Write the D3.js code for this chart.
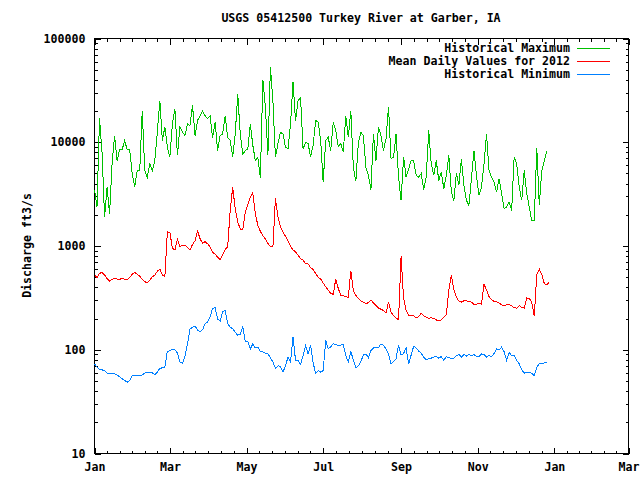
<!DOCTYPE html>
<html>
<head>
<meta charset="utf-8">
<script src="https://cdn.jsdelivr.net/npm/d3@7"></script>
<style>
  body { margin: 0; background: #fff; }
  text { font-family: "DejaVu Sans Mono", monospace; font-weight: bold; font-size: 11.6px; fill: #000; }
</style>
</head>
<body>
<div id="chart"></div>
<script>
// daily values sampled every 2 days starting Jan 1 2012 (ft3/s)
const stepDays = 2;

const histMax = [
  3500, 2400, 17000, 8000, 1900, 3700, 2050, 6200, 11600, 6670,
  8460, 8460, 10400, 8460, 8460, 5000, 3700, 5340, 5340, 20000,
  5340, 4600, 6200, 5340, 6670, 12500, 25200, 10400, 14000, 9000,
  7200, 15000, 21000, 7500, 14000, 12500, 11600, 15000, 14500, 22600,
  11600, 16200, 18000, 20000, 18000, 17000, 18000, 11000, 15600, 8300,
  11600, 12000, 18000, 11000, 10400, 7200, 12000, 29000, 12000, 7700,
  8300, 8600, 15000, 9350, 6670, 7200, 4500, 40000, 21800, 7500,
  53000, 25000, 7200, 9700, 12500, 12000, 9000, 8600, 15000, 38000,
  16200, 25000, 27000, 8600, 10000, 9700, 7200, 9350, 16200, 15600,
  10400, 4100, 10400, 11200, 8300, 15600, 13000, 9000, 9700, 8000,
  18000, 11200, 20000, 5700, 4200, 10000, 12500, 11600, 5700, 4800,
  3500, 12000, 6670, 14000, 11600, 8300, 10800, 22000, 7000, 7200,
  12000, 4600, 2750, 7200, 4600, 5500, 6670, 6670, 4800, 4600,
  5000, 3500, 4600, 13000, 6200, 4800, 6670, 4280, 5200, 3550,
  4800, 7500, 3300, 2750, 5000, 3850, 6900, 3850, 2750, 2470,
  4450, 8300, 4800, 3080, 3700, 6200, 12000, 5340, 4600, 4150,
  3300, 4450, 3200, 2300, 2380, 2650, 2200, 7200, 6200, 3700,
  2750, 5340, 3200, 2380, 1760, 1760, 8800, 2500, 5340, 6670,
  8300
];

const mean2012 = [
  530, 495, 545, 555, 525, 487, 460, 477, 490, 480,
  477, 487, 477, 470, 497, 535, 555, 535, 512, 477,
  453, 443, 470, 505, 525, 570, 600, 525, 505, 1370,
  1350, 950, 915, 1160, 985, 1020, 1020, 970, 915, 1035,
  1120, 1390, 1180, 1060, 1100, 1050, 980, 865, 840, 780,
  740, 815, 930, 985, 2200, 3700, 2270, 1700, 1460, 1430,
  2130, 2500, 2970, 3250, 2050, 1580, 1390, 1250, 1170, 1060,
  985, 980, 2870, 1900, 1520, 1370, 1240, 1120, 1000, 915,
  880, 815, 755, 730, 675, 670, 620, 595, 545, 500,
  480, 440, 405, 377, 350, 342, 480, 390, 335, 331,
  325, 320, 575, 370, 335, 313, 296, 288, 278, 285,
  303, 282, 266, 252, 246, 239, 225, 287, 230, 214,
  203, 194, 800, 313, 239, 214, 214, 212, 203, 208,
  225, 212, 206, 201, 203, 201, 194, 190, 194, 207,
  218, 377, 525, 382, 320, 294, 288, 296, 298, 290,
  288, 274, 274, 280, 274, 430, 377, 325, 303, 292,
  290, 282, 272, 264, 272, 272, 266, 254, 252, 266,
  256, 252, 316, 313, 288, 210, 530, 600, 530, 435,
  420, 453
];

const histMin = [
  73, 68, 65, 64, 63, 59.5, 59.5, 58.5, 58.5, 57,
  55, 52.5, 50.5, 48.7, 50.5, 56.5, 56, 56, 56, 57,
  59.5, 60.7, 60.7, 60, 57.5, 61, 66, 67, 67.5, 97,
  97.5, 101, 100, 93, 76, 74, 86, 114, 158, 165,
  169, 155, 148, 156, 178, 185, 208, 250, 256, 197,
  189, 233, 239, 178, 165, 159, 148, 138, 141, 165,
  121, 121, 102, 114, 104, 106, 96, 95, 93, 91,
  84, 76, 66, 70, 69, 61, 70, 85, 76, 132,
  79, 79, 72, 88, 110, 91, 110, 75, 59, 63,
  61, 63, 123, 102, 107, 114, 113, 110, 111, 112,
  88, 76, 97, 79, 67, 70, 77, 89, 91, 84,
  98, 104, 104, 105, 114, 110, 102, 90, 73, 77,
  82, 111, 89, 92, 104, 73, 89, 108, 104, 97,
  93, 85, 80, 82, 83, 85, 86, 83, 86, 79,
  86, 84, 82, 83, 88, 90, 85, 90, 87, 90,
  88, 90, 86, 86, 91, 90, 85, 88, 86, 92,
  102, 99, 106, 96, 79, 94, 88, 88, 79, 73,
  64, 59.5, 61, 61, 59, 56.5, 68, 73, 74, 74.5,
  76
];

const seriesNames = ["Historical Maximum", "Mean Daily Values for 2012", "Historical Minimum"];
const seriesColors = ["#00c000", "#ff0000", "#0080ff"];
const yTickValues = [10, 100, 1000, 10000, 100000];

const width = 640,
    height = 480,
    margin = ({ top: 38, right: 12, bottom: 27, left: 94 });

const svg = d3.select("#chart")
    .append("svg")
    .attr("width", width)
    .attr("height", height)
    .attr("viewBox", [0, 0, width, height]);

const start = new Date(2012, 0, 1);

let x = d3.scaleTime()
    .domain([start, new Date(2013, 2, 1)])
    .range([margin.left, width - margin.right]);

let y = d3.scaleLog()
    .domain([10, 100000])
    .range([height - margin.bottom, margin.top]);

const g = svg.append("g").attr("transform", "translate(0.5,0.5)");

// major / minor ticks
const xMajor = d3.timeMonth.every(2).range(start, new Date(2013, 2, 2));
let xMinor = [];
for (let i = 0; i < xMajor.length - 1; i++) {
    const a = xMajor[i].getTime(), b = xMajor[i + 1].getTime();
    for (let j = 1; j < 6; j++) xMinor.push(new Date(a + (b - a) * j / 6));
}
let yMinor = [];
for (let d = 10; d < 100000; d *= 10) {
    for (let m = 2; m < 10; m++) yMinor.push(d * m);
}

const fmt = d3.timeFormat("%b");

g.append("g")
    .attr("transform", `translate(0,${height - margin.bottom})`)
    .call(d3.axisBottom(x).tickValues(xMajor).tickFormat(fmt).tickSize(-6).tickSizeOuter(0).tickPadding(9))
    .call(a => a.select(".domain").remove());
g.append("g")
    .attr("transform", `translate(0,${height - margin.bottom})`)
    .call(d3.axisBottom(x).tickValues(xMinor).tickFormat("").tickSize(-3).tickSizeOuter(0))
    .call(a => a.select(".domain").remove());
g.append("g")
    .attr("transform", `translate(0,${margin.top})`)
    .call(d3.axisTop(x).tickValues(xMajor).tickFormat("").tickSize(-6).tickSizeOuter(0))
    .call(a => a.select(".domain").remove());
g.append("g")
    .attr("transform", `translate(0,${margin.top})`)
    .call(d3.axisTop(x).tickValues(xMinor).tickFormat("").tickSize(-3).tickSizeOuter(0))
    .call(a => a.select(".domain").remove());

g.append("g")
    .attr("transform", `translate(${margin.left},0)`)
    .call(d3.axisLeft(y).tickValues(yTickValues).tickFormat(d3.format("d")).tickSize(-6).tickSizeOuter(0).tickPadding(9))
    .call(a => a.select(".domain").remove());
g.append("g")
    .attr("transform", `translate(${margin.left},0)`)
    .call(d3.axisLeft(y).tickValues(yMinor).tickFormat("").tickSize(-3).tickSizeOuter(0))
    .call(a => a.select(".domain").remove());
g.append("g")
    .attr("transform", `translate(${width - margin.right},0)`)
    .call(d3.axisRight(y).tickValues(yTickValues).tickFormat("").tickSize(-6).tickSizeOuter(0))
    .call(a => a.select(".domain").remove());
g.append("g")
    .attr("transform", `translate(${width - margin.right},0)`)
    .call(d3.axisRight(y).tickValues(yMinor).tickFormat("").tickSize(-3).tickSizeOuter(0))
    .call(a => a.select(".domain").remove());

svg.selectAll(".tick line").attr("stroke", "#000").attr("shape-rendering", "crispEdges");
svg.selectAll(".tick text")
    .style("font-family", "'DejaVu Sans Mono', monospace")
    .style("font-weight", "bold")
    .style("font-size", "11.6px")
    .attr("fill", "#000");

// frame
g.append("rect")
    .attr("x", margin.left)
    .attr("y", margin.top)
    .attr("width", width - margin.right - margin.left)
    .attr("height", height - margin.bottom - margin.top)
    .attr("fill", "none")
    .attr("stroke", "#000")
    .attr("shape-rendering", "crispEdges");

// lines
const line = d3.line()
    .x((d, i) => x(d3.timeDay.offset(start, i * stepDays)))
    .y(d => y(d));

[histMax, mean2012, histMin].forEach((s, i) => {
    g.append("path")
        .datum(s)
        .attr("fill", "none")
        .attr("stroke", seriesColors[i])
        .attr("stroke-width", 1)
        .attr("shape-rendering", "crispEdges")
        .attr("d", line);
});

// legend
const legend = svg.append("g");
seriesNames.forEach((name, i) => {
    const ly = 48 + i * 13;
    legend.append("text")
        .attr("x", 570)
        .attr("y", ly)
        .attr("dy", "0.35em")
        .attr("text-anchor", "end")
        .text(name);
    legend.append("line")
        .attr("x1", 577).attr("x2", 610)
        .attr("y1", ly + 0.5).attr("y2", ly + 0.5)
        .attr("stroke", seriesColors[i])
        .attr("shape-rendering", "crispEdges");
});

// title and axis label
svg.append("text")
    .attr("x", 361)
    .attr("y", 18)
    .attr("dy", "0.35em")
    .attr("text-anchor", "middle")
    .text("USGS 05412500 Turkey River at Garber, IA");

svg.append("text")
    .attr("transform", `translate(27,${(margin.top + height - margin.bottom) / 2}) rotate(-90)`)
    .attr("dy", "0.35em")
    .attr("text-anchor", "middle")
    .text("Discharge ft3/s");
</script>
</body>
</html>
